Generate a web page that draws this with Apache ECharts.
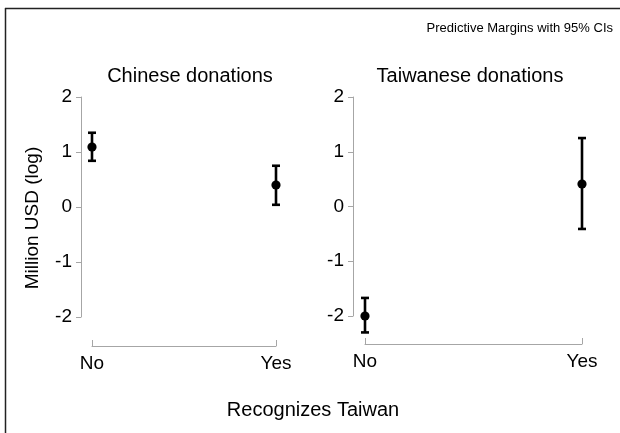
<!DOCTYPE html>
<html>
<head>
<meta charset="utf-8">
<script src="https://cdn.jsdelivr.net/npm/echarts@6/dist/echarts.min.js"></script>
<style>
  html, body { margin: 0; padding: 0; background: #fff; }
  #chart { width: 620px; height: 433px; }
</style>
</head>
<body>
<div id="chart"></div>
<script>
// Predictive margins (log million USD) with 95% confidence intervals
const categories = ['No', 'Yes'];
const yTicks = [-2, -1, 0, 1, 2];

// Chinese donations: estimate, lower CI, upper CI
const chineseMargin = [1.09, 0.40];
const chineseLower = [0.84, 0.04];
const chineseUpper = [1.35, 0.75];

// Taiwanese donations: estimate, lower CI, upper CI
const taiwaneseMargin = [-2.00, 0.41];
const taiwaneseLower = [-2.30, -0.41];
const taiwaneseUpper = [-1.67, 1.25];

const FONT = '"Liberation Sans", Arial, Helvetica, sans-serif';
const AXIS_GRAY = '#a6a6a6';

function buildRows(mean, lo, hi) {
  return categories.map((c, i) => [i, mean[i], lo[i], hi[i]]);
}

function renderErrorBar(params, api) {
  const x = api.value(0);
  const pm = api.coord([x, api.value(1)]);
  const pl = api.coord([x, api.value(2)]);
  const ph = api.coord([x, api.value(3)]);
  const cap = 4;
  const lineStyle = { stroke: '#000', lineWidth: 2.6 };
  return {
    type: 'group',
    children: [
      { type: 'line', shape: { x1: pl[0], y1: pl[1], x2: ph[0], y2: ph[1] }, style: lineStyle },
      { type: 'line', shape: { x1: ph[0] - cap, y1: ph[1], x2: ph[0] + cap, y2: ph[1] }, style: lineStyle },
      { type: 'line', shape: { x1: pl[0] - cap, y1: pl[1], x2: pl[0] + cap, y2: pl[1] }, style: lineStyle },
      { type: 'circle', shape: { cx: pm[0], cy: pm[1], r: 4.6 }, style: { fill: '#000' } }
    ]
  };
}

function yAxisFor(gridIndex, offset) {
  return {
    type: 'value', gridIndex, min: yTicks[0], max: yTicks[yTicks.length - 1], interval: 1,
    position: 'left', offset,
    axisLine: { show: true, onZero: false, lineStyle: { color: AXIS_GRAY, width: 1 } },
    axisTick: { show: true, length: 5, lineStyle: { color: AXIS_GRAY } },
    axisLabel: { color: '#000', fontSize: 19, fontFamily: FONT, margin: 9 },
    splitLine: { show: false }
  };
}

function xAxisFor(gridIndex, offset) {
  return {
    type: 'value', gridIndex, min: 0, max: categories.length - 1, interval: 1,
    position: 'bottom', offset,
    axisLine: { show: true, onZero: false, lineStyle: { color: AXIS_GRAY, width: 1 } },
    axisTick: { show: true, inside: true, length: 6, lineStyle: { color: AXIS_GRAY } },
    axisLabel: {
      color: '#000', fontSize: 19, fontFamily: FONT, margin: 8,
      formatter: v => categories[v] ?? ''
    },
    splitLine: { show: false }
  };
}

const chart = echarts.init(document.getElementById('chart'), null, { renderer: 'canvas' });

chart.setOption({
  backgroundColor: '#fff',
  animation: false,
  grid: [
    { left: 92, top: 97, width: 184, height: 220 },
    { left: 365, top: 97, width: 217, height: 219 }
  ],
  xAxis: [xAxisFor(0, 29), xAxisFor(1, 28)],
  yAxis: [yAxisFor(0, 11), yAxisFor(1, 12)],
  series: [
    {
      type: 'custom', name: 'Chinese donations', xAxisIndex: 0, yAxisIndex: 0,
      clip: false, renderItem: renderErrorBar,
      data: buildRows(chineseMargin, chineseLower, chineseUpper)
    },
    {
      type: 'custom', name: 'Taiwanese donations', xAxisIndex: 1, yAxisIndex: 1,
      clip: false, renderItem: renderErrorBar,
      data: buildRows(taiwaneseMargin, taiwaneseLower, taiwaneseUpper)
    }
  ],
  graphic: [
    // frame edges
    { type: 'line', shape: { x1: 5, y1: 8.5, x2: 620, y2: 8.5 }, style: { stroke: '#222', lineWidth: 1.5 } },
    { type: 'line', shape: { x1: 5.5, y1: 8, x2: 5.5, y2: 433 }, style: { stroke: '#222', lineWidth: 1.5 } },
    { type: 'text', x: 613, y: 28, style: { text: 'Predictive Margins with 95% CIs', font: '13px ' + FONT, fill: '#000', align: 'right', verticalAlign: 'middle' } },
    { type: 'text', x: 190, y: 76, style: { text: 'Chinese donations', font: '20px ' + FONT, fill: '#000', align: 'center', verticalAlign: 'middle' } },
    { type: 'text', x: 470, y: 76, style: { text: 'Taiwanese donations', font: '20px ' + FONT, fill: '#000', align: 'center', verticalAlign: 'middle' } },
    { type: 'text', x: 33, y: 218, rotation: Math.PI / 2, style: { text: 'Million USD (log)', font: '19px ' + FONT, fill: '#000', align: 'center', verticalAlign: 'middle' } },
    { type: 'text', x: 313, y: 410, style: { text: 'Recognizes Taiwan', font: '20px ' + FONT, fill: '#000', align: 'center', verticalAlign: 'middle' } }
  ]
});
</script>
</body>
</html>
